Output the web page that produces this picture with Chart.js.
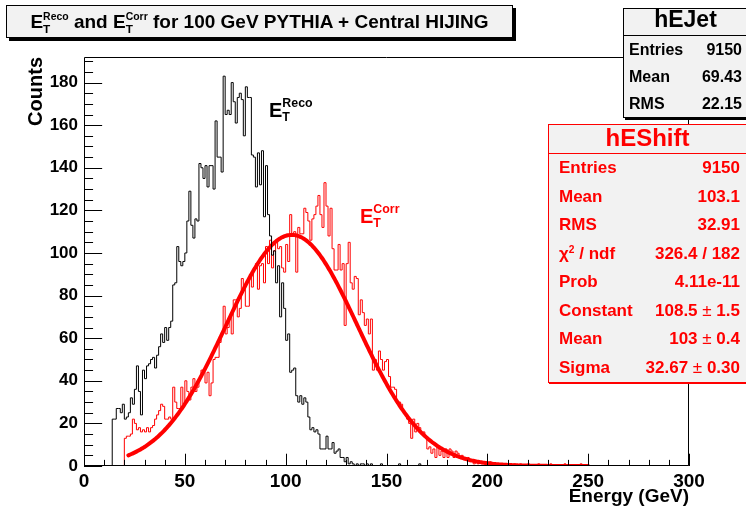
<!DOCTYPE html>
<html>
<head>
<meta charset="utf-8">
<script src="https://cdn.jsdelivr.net/npm/chart.js@4.4.1/dist/chart.umd.min.js"></script>
<style>
html, body { margin: 0; padding: 0; background: #fff; overflow: hidden; }
#wrap { position: relative; width: 746px; height: 517px; overflow: hidden;
  font-family: "Liberation Sans", Arial, Helvetica, sans-serif; font-weight: bold; color: #000; }
#c { position: absolute; left: 0; top: 0; }
/* E with stacked sub/superscript */
.st { position: relative; display: inline-block; line-height: 1; }
.st .sup { font-size: .62em; position: relative; top: -.774em; }
.st .sub { font-size: .62em; position: absolute; left: 0; top: .906em; }
.st.small .sup { font-size: .55em; top: -.73em; }
.st.small .sub { top: .92em; }
#title { position: absolute; left: 6px; top: 5px; width: 507px; height: 33px; box-sizing: border-box;
  border: 1px solid #000; background: #f2f2f2; box-shadow: 3px 3px 0 #000;
  font-size: 19px; line-height: 31px; text-align: center; white-space: nowrap; }
.lbl { position: absolute; font-size: 20px; line-height: 1; white-space: nowrap; }
#lblReco { left: 269px; top: 100px; color: #000; }
#lblCorr { left: 360px; top: 206px; color: #ff0000; }
.stats { position: absolute; box-sizing: border-box; background: #f2f2f2; display: flex; flex-direction: column; white-space: nowrap; }
.stats .head { text-align: center; border-bottom: 1px solid; box-sizing: border-box; flex: none; }
.stats .row { flex: 1; display: flex; justify-content: space-between; align-items: center; }
.pm { font-weight: normal; }
#hEJet { left: 623px; top: 8px; width: 125px; height: 110px; border: 1px solid #000; box-shadow: 2px 2px 0 #000; font-size: 16px; }
#hEJet .head { height: 27px; line-height: 20px; font-size: 23px; border-color: #000; }
#hEJet .row { padding: 0 5px 0 5px; }
#hEShift { left: 548px; top: 124px; width: 199px; height: 259px; border: 1px solid #ff0000; box-shadow: 1px 1px 0 #ff0000; color: #ff0000; font-size: 17px; }
#hEShift .head { height: 29px; line-height: 25px; font-size: 24px; border-color: #ff0000; }
#hEShift .row { padding: 0 6px 0 10px; }
.chi sup { font-size: .6em; vertical-align: .6em; line-height: 0; }
</style>
</head>
<body>
<div id="wrap">
  <canvas id="c" width="746" height="517"></canvas>

  <div id="title">E<span class="st small"><span class="sup">Reco</span><span class="sub">T</span></span> and E<span class="st small"><span class="sup">Corr</span><span class="sub">T</span></span> for 100 GeV PYTHIA + Central HIJING</div>

  <div id="lblReco" class="lbl">E<span class="st"><span class="sup">Reco</span><span class="sub">T</span></span></div>
  <div id="lblCorr" class="lbl">E<span class="st"><span class="sup">Corr</span><span class="sub">T</span></span></div>

  <div id="hEJet" class="stats">
    <div class="head">hEJet</div>
    <div class="row"><span>Entries</span><span>9150</span></div>
    <div class="row"><span>Mean</span><span>69.43</span></div>
    <div class="row"><span>RMS</span><span>22.15</span></div>
  </div>

  <div id="hEShift" class="stats">
    <div class="head">hEShift</div>
    <div class="row"><span>Entries</span><span>9150</span></div>
    <div class="row"><span>Mean</span><span>103.1</span></div>
    <div class="row"><span>RMS</span><span>32.91</span></div>
    <div class="row"><span class="chi">χ<sup>2</sup> / ndf</span><span>326.4 / 182</span></div>
    <div class="row"><span>Prob</span><span>4.11e-11</span></div>
    <div class="row"><span>Constant</span><span>108.5 <span class="pm">±</span> 1.5</span></div>
    <div class="row"><span>Mean</span><span>103 <span class="pm">±</span> 0.4</span></div>
    <div class="row"><span>Sigma</span><span>32.67 <span class="pm">±</span> 0.30</span></div>
  </div>
</div>

<script>
// Binning of both histograms (GeV)
const xMin = 0;
const xMax = 300;
const binWidth = 1;
const xTickValues = [0, 50, 100, 150, 200, 250, 300];
const yTickValues = [0, 20, 40, 60, 80, 100, 120, 140, 160, 180];
const yMax = 192;

// hEJet: reconstructed E_T, counts per bin starting at recoFirstBin
const recoFirstBin = 14;
const recoCounts = [
  22, 22, 27, 27, 25, 29, 22, 23, 25, 32,        // 14-23
  29, 36, 47, 35, 24, 45, 41, 47, 48, 50,        // 24-33
  51, 46, 52, 56, 62, 58, 65, 59, 65, 68,        // 34-43
  85, 86, 103, 96, 94, 96, 100, 115, 129, 113,   // 44-53
  107, 116, 115, 142, 140, 135, 141, 131, 141, 141, // 54-63
  130, 162, 145, 145, 138, 183, 165, 167, 165, 180, // 64-73
  171, 161, 173, 175, 172, 155, 178, 173, 173, 146, // 74-83
  145, 131, 147, 132, 148, 117, 141, 118, 108, 99,  // 84-93
  101, 86, 94, 70, 86, 74, 59, 62, 44, 45,       // 94-103
  46, 33, 30, 33, 29, 32, 30, 23, 17, 18,        // 104-113
  16, 17, 15, 8, 8, 8, 14, 8, 8, 11,             // 114-123
  6, 7, 8, 4, 4, 2, 4, 1, 2, 1,                  // 124-133
  0, 1, 0, 1, 1, 0, 1, 0, 1, 0,                  // 134-143
  0, 0, 0, 1, 0, 0, 0, 0, 0, 0,                  // 144-153
  0, 0, 1, 0, 0, 0, 0, 0, 0, 0,                  // 154-163
  0, 0, 1                                        // 164-166
];

// hEShift: corrected E_T, counts per bin starting at corrFirstBin
const corrFirstBin = 20;
const corrCounts = [
  13, 14, 14, 15, 22, 20, 17, 18, 16, 17,        // 20-29
  16, 18, 16, 18, 19, 22, 24, 26, 29, 28,        // 30-39
  22, 22, 23, 22, 37, 30, 27, 27, 37, 29,        // 40-49
  40, 35, 31, 37, 41, 35, 37, 41, 45, 44,        // 50-59
  39, 44, 33, 39, 50, 51, 51, 58, 62, 75,        // 60-69
  62, 65, 70, 62, 78, 78, 70, 74, 88, 83,        // 70-79
  75, 75, 90, 84, 93, 95, 83, 94, 95, 86,        // 80-89
  103, 95, 106, 93, 101, 106, 102, 103, 93, 91,  // 90-99
  104, 96, 118, 109, 110, 91, 112, 109, 109, 121, // 100-109
  119, 115, 106, 116, 118, 122, 127, 118, 112, 133, // 110-119
  122, 108, 121, 102, 92, 92, 104, 92, 95, 66,   // 120-129
  95, 105, 86, 83, 89, 88, 71, 78, 72, 66,       // 130-139
  69, 62, 69, 45, 50, 45, 54, 50, 45, 49,        // 140-149
  50, 42, 37, 37, 36, 30, 30, 29, 26, 24,        // 150-159
  22, 20, 13, 22, 16, 20, 18, 15, 16, 14,        // 160-169
  8, 9, 6, 8, 4, 9, 5, 7, 4, 8,                  // 170-179
  4, 8, 7, 4, 7, 6, 4, 5, 3, 4,                  // 180-189
  4, 2, 3, 1, 2, 1, 2, 1, 1, 0,                  // 190-199
  1, 2, 1, 0, 1, 1, 0, 1, 1, 0,                  // 200-209
  1, 0, 0, 1, 0, 0, 1, 0, 0, 0,                  // 210-219
  1, 0, 0, 0, 0, 1, 0, 0, 0, 0,                  // 220-229
  0, 1, 0, 0, 0, 0, 0, 0, 1, 0,                  // 230-239
  0, 0, 0, 0, 0, 0, 1                            // 240-246
];

// Gaussian fit to hEShift (parameters from the fit result)
const fitConstant = 108.5;
const fitMean = 103;
const fitSigma = 32.67;
const fitLow = 22;
const fitHigh = 250;

// Step outline of a histogram over the full axis range
function histogramPoints(firstBin, counts) {
  const nBins = Math.round((xMax - xMin) / binWidth);
  const offset = Math.round((firstBin - xMin) / binWidth);
  const pts = [];
  for (let i = 0; i < nBins; i++) {
    const j = i - offset;
    const v = (j >= 0 && j < counts.length) ? counts[j] : 0;
    pts.push({ x: xMin + i * binWidth, y: v });
  }
  pts.push({ x: xMax, y: pts[nBins - 1].y });
  return pts;
}

function gaussPoints() {
  const pts = [];
  for (let e = fitLow; e <= fitHigh + 1e-9; e += 0.5) {
    const t = (e - fitMean) / fitSigma;
    pts.push({ x: e, y: fitConstant * Math.exp(-0.5 * t * t) });
  }
  return pts;
}

// Frame and inward tick marks, ROOT style
const rootAxes = {
  id: 'rootAxes',
  afterDatasetsDraw(chart) {
    const { ctx, chartArea: a, scales: { x, y } } = chart;
    const L = Math.round(a.left), R = Math.round(a.right), T = Math.round(a.top), B = Math.round(a.bottom);
    ctx.save();
    ctx.strokeStyle = '#000';
    ctx.lineWidth = 1;
    ctx.beginPath();
    ctx.rect(L + 0.5, T + 0.5, R - L - 1, B - T - 1);
    ctx.stroke();

    const yMajorLen = 0.03 * (R - L);
    const yStep = yTickValues[1] - yTickValues[0];
    const yMinor = yStep / 4;
    ctx.beginPath();
    for (let v = 0; v <= yMax + 1e-9; v += yMinor) {
      const py = Math.round(y.getPixelForValue(v)) + 0.5;
      const len = (Math.abs(v / yStep - Math.round(v / yStep)) < 1e-6) ? yMajorLen : yMajorLen / 2;
      ctx.moveTo(L, py);
      ctx.lineTo(L + len, py);
    }
    const xMajorLen = 0.03 * (B - T);
    const xStep = xTickValues[1] - xTickValues[0];
    const xMinor = xStep / 5;
    for (let v = xMin; v <= xMax + 1e-9; v += xMinor) {
      const px = Math.round(x.getPixelForValue(v)) + 0.5;
      const len = (Math.abs(v / xStep - Math.round(v / xStep)) < 1e-6) ? xMajorLen : xMajorLen / 2;
      ctx.moveTo(px, B);
      ctx.lineTo(px, B - len);
    }
    ctx.stroke();
    ctx.restore();
  }
};

Chart.defaults.font.family = '"Liberation Sans", Arial, Helvetica, sans-serif';
Chart.defaults.color = '#000';

new Chart(document.getElementById('c'), {
  type: 'line',
  data: {
    datasets: [
      { label: 'hEJet', data: histogramPoints(recoFirstBin, recoCounts), stepped: true,
        borderColor: '#000000', borderWidth: 1, pointRadius: 0, fill: false },
      { label: 'gaus', data: gaussPoints(), borderColor: '#ff0000', borderWidth: 4,
        pointRadius: 0, fill: false, tension: 0, borderCapStyle: 'round' },
      { label: 'hEShift', data: histogramPoints(corrFirstBin, corrCounts), stepped: true,
        borderColor: '#ff0000', borderWidth: 1, pointRadius: 0, fill: false }
    ]
  },
  options: {
    responsive: false,
    animation: false,
    devicePixelRatio: 1,
    layout: { padding: { top: 57, right: 57, left: 0, bottom: 0 } },
    plugins: { legend: { display: false }, tooltip: { enabled: false } },
    scales: {
      x: {
        type: 'linear', min: xMin, max: xMax,
        grid: { display: false, drawTicks: false },
        border: { display: false },
        afterBuildTicks: s => { s.ticks = xTickValues.map(v => ({ value: v })); },
        afterFit: s => { s.height = 51; },
        ticks: { color: '#000', font: { size: 19, weight: 'bold' }, padding: 4, maxRotation: 0, autoSkip: false },
        title: { display: true, text: 'Energy (GeV)', align: 'end', color: '#000',
                 font: { size: 19, weight: 'bold' }, padding: { top: 0, bottom: 9 } }
      },
      y: {
        type: 'linear', min: 0, max: yMax,
        grid: { display: false, drawTicks: false },
        border: { display: false },
        afterBuildTicks: s => { s.ticks = yTickValues.map(v => ({ value: v })); },
        afterFit: s => { s.width = 84; },
        ticks: { color: '#000', font: { size: 17, weight: 'bold' }, padding: 6, autoSkip: false },
        title: { display: true, text: 'Counts', align: 'end', color: '#000',
                 font: { size: 20, weight: 'bold' }, padding: { top: 24, bottom: 0 } }
      }
    }
  },
  plugins: [rootAxes]
});
</script>
</body>
</html>
